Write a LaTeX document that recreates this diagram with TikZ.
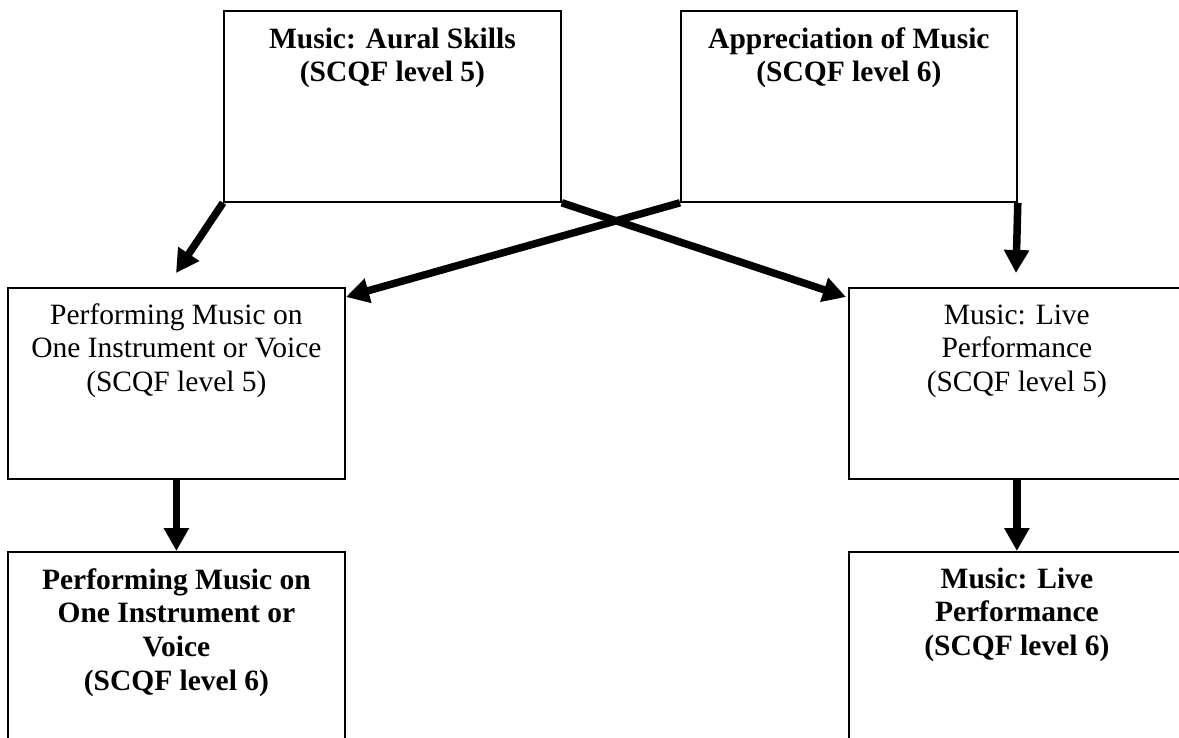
\documentclass[tikz,border=0pt]{standalone}
\usepackage{fontspec}
\setmainfont{Liberation Serif}
\usetikzlibrary{arrows.meta,calc}
\tikzset{
  box/.style={draw=black, line width=1.8pt, rectangle, minimum width=337pt, minimum height=191pt, inner sep=0pt, anchor=north west},
  txt/.style={anchor=north, inner sep=0pt, align=center, font=\fontsize{29.5pt}{33.6pt}\selectfont},
  btxt/.style={txt, font=\fontsize{29.5pt}{33.6pt}\selectfont\bfseries},
  conn/.style={line width=7.5pt, -{Triangle[length=23pt,width=24pt]}}
}
\newcommand{\fl}{\rule{0pt}{25pt}}
\begin{document}
\begin{tikzpicture}[x=1pt,y=-1pt]
\useasboundingbox (0,0) rectangle (1179,738);
\clip (0,0) rectangle (1179,738);
\fill[white] (0,0) rectangle (1179,738);
% boxes
\node[box] (tl) at (223,10) {};
\node[box, minimum width=336pt] (tr) at (680,10) {};
\node[box] (ml) at (7,287) {};
\node[box, minimum width=336pt] (mr) at (848,287) {};
\node[box] (bl) at (7,551) {};
\node[box, minimum width=336pt] (br) at (848,551) {};
% texts
\node[btxt] (tlt) at ($(tl.north)+(0,13)$) {\fl Music: Aural Skills\\(SCQF level 5)};
\node[btxt] (trt) at ($(tr.north)+(0,13)$) {\fl Appreciation of Music\\(SCQF level 6)};
\node[txt] (mlt) at ($(ml.north)+(0,12)$) {\fl Performing Music on\\One Instrument or Voice\\(SCQF level 5)};
\node[txt] (mrt) at ($(mr.north)+(0,12)$) {\fl Music: Live\\Performance\\(SCQF level 5)};
\node[btxt] (blt) at ($(bl.north)+(0,13)$) {\fl Performing Music on\\One Instrument or\\Voice\\(SCQF level 6)};
\node[btxt] (brt) at ($(br.north)+(0,12)$) {\fl Music: Live\\Performance\\(SCQF level 6)};
% arrow end points
\coordinate (a1) at (176,273);
\coordinate (a2) at (846,297);
\coordinate (a3) at (346,297);
\coordinate (a4) at (1016,273);
% connectors
\draw[conn] (tl.south west) -- (a1);
\draw[conn] (tl.south east) -- (a2);
\draw[conn] (tr.south west) -- (a3);
\draw[conn] (tr.south east) -- (a4);
\draw[conn] (ml.south) -- (bl.north);
\draw[conn] (mr.south) -- (br.north);
\end{tikzpicture}
\end{document}
